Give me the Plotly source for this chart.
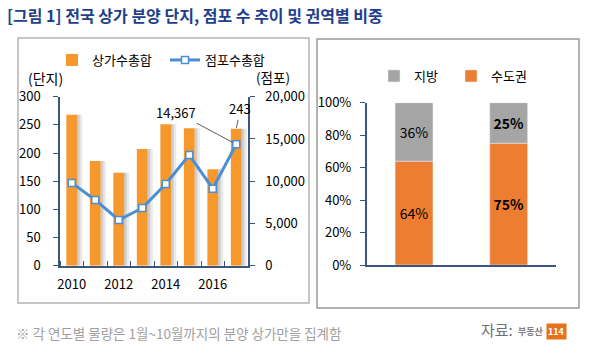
import plotly.graph_objects as go

# ---- data ----
years = [2010, 2011, 2012, 2013, 2014, 2015, 2016, 2017]
complexes = [268, 186, 165, 207, 251, 244, 171, 243]          # 상가수총합 (단지)
stores = [9800, 7780, 5410, 6830, 9670, 13100, 9110, 14367]   # 점포수총합 (점포)

share_cats = [0, 1]
capital_share = [64, 75]   # 수도권
local_share = [36, 25]     # 지방
capital_text = ["64%", "<b>75%</b>"]
local_text = ["36%", "<b>25%</b>"]

left_yticks = [0, 50, 100, 150, 200, 250, 300]
right_yticks = [0, 5000, 10000, 15000, 20000]
xtick_years = [2010, 2012, 2014, 2016]
pct_ticks = [0, 20, 40, 60, 80, 100]

W, H = 598, 350
FONT = "Noto Sans CJK KR"
AX = "#3A5580"

def px(x):
    return x / W

def py(y):
    return 1 - y / H

fig = go.Figure()

# soft shadow behind the bars (base layer)
fig.add_trace(go.Bar(
    x=years, y=complexes, marker=dict(color="#E9E9E9", line=dict(width=0)),
    width=0.12, offset=0.33, showlegend=False, hoverinfo="skip",
    xaxis="x", yaxis="y",
))
fig.add_trace(go.Bar(
    x=years, y=complexes, marker=dict(color="#CDCDCD", line=dict(width=0)),
    width=0.12, offset=0.22, showlegend=False, hoverinfo="skip",
    xaxis="x", yaxis="y",
))
fig.add_trace(go.Bar(
    x=years, y=complexes, name="상가수총합", marker=dict(color="#F7982D", line=dict(width=0)),
    width=0.46, xaxis="x", yaxis="y2", legend="legend",
))
fig.add_trace(go.Scatter(
    x=years, y=stores, name="점포수총합", mode="lines+markers",
    line=dict(color="#4A8FD6", width=3),
    marker=dict(symbol="square", size=7, color="white", line=dict(color="#4A8FD6", width=1.5)),
    xaxis="x", yaxis="y3", legend="legend",
))

fig.add_trace(go.Bar(
    x=share_cats, y=capital_share, name="수도권", marker_color="#ED7D31",
    width=0.4, text=capital_text, texttemplate="%{text}", textposition="inside", textangle=0,
    insidetextanchor="middle", textfont=dict(color="black", size=14, family=FONT),
    xaxis="x2", yaxis="y4", legend="legend2",
))
fig.add_trace(go.Bar(
    x=share_cats, y=local_share, base=capital_share, name="지방", marker_color="#A5A5A5",
    width=0.4, text=local_text, texttemplate="%{text}", textposition="inside", textangle=0,
    insidetextanchor="middle", textfont=dict(color="black", size=14, family=FONT),
    xaxis="x2", yaxis="y4", legend="legend2",
))

tickfont = dict(family=FONT, size=13, color="black")
ldom = [py(265.7), py(96.7)]

fig.update_layout(
    width=W, height=H, margin=dict(l=0, r=0, t=0, b=0, autoexpand=False),
    paper_bgcolor="white", plot_bgcolor="white",
    font=dict(family=FONT, size=13, color="black"),
    barmode="overlay",
    uniformtext=dict(minsize=8, mode="show"),
    xaxis=dict(
        domain=[px(60), px(248)], range=[2009.5, 2017.5], anchor="y",
        tickvals=xtick_years, ticktext=[str(v) for v in xtick_years],
        ticks="", showline=True, linecolor=AX, linewidth=1.5,
        showgrid=False, zeroline=False, tickfont=tickfont, ticklabelstandoff=6,
        minor=dict(tick0=2009.5, dtick=1, ticks="inside", ticklen=5, tickcolor=AX, showgrid=False),
    ),
    yaxis=dict(
        domain=ldom, range=[0, 300], tickvals=left_yticks,
        ticks="outside", ticklen=5, tickcolor=AX, showline=True, linecolor=AX, linewidth=1.5,
        showgrid=False, zeroline=False, tickfont=tickfont, ticklabelstandoff=10,
    ),
    yaxis2=dict(
        domain=ldom, range=[0, 300], overlaying="y", anchor="x", visible=False,
    ),
    yaxis3=dict(
        domain=ldom, range=[0, 20000], tickvals=right_yticks,
        tickformat=",", overlaying="y", side="right", anchor="x",
        ticks="outside", ticklen=5, tickcolor=AX, showline=True, linecolor=AX, linewidth=1.5,
        showgrid=False, zeroline=False, tickfont=tickfont, ticklabelstandoff=8,
    ),
    xaxis2=dict(
        domain=[px(366.7), px(556)], range=[-0.5, 1.5], anchor="y4",
        showticklabels=False, ticks="", showline=True, linecolor=AX, linewidth=1.5,
        showgrid=False, zeroline=False,
        minor=dict(tick0=-0.5, dtick=1, ticks="outside", ticklen=5, tickcolor=AX, showgrid=False),
    ),
    yaxis4=dict(
        domain=[py(265), py(102.7)], range=[0, 100], tickvals=pct_ticks,
        ticktext=[f"{v}%" for v in pct_ticks], anchor="x2",
        ticks="outside", ticklen=5, tickcolor=AX, showline=True, linecolor=AX, linewidth=1.5,
        showgrid=False, zeroline=False, tickfont=tickfont, ticklabelstandoff=6,
    ),
    legend=dict(
        orientation="h", x=px(52), y=py(45), xanchor="left", yanchor="top",
        font=dict(family=FONT, size=13, color="black"), itemwidth=30, traceorder="normal",
        bgcolor="rgba(0,0,0,0)", entrywidth=68,
    ),
    legend2=dict(
        orientation="h", x=px(374), y=py(61), xanchor="left", yanchor="top",
        font=dict(family=FONT, size=13, color="black"), traceorder="reversed",
        bgcolor="rgba(0,0,0,0)", itemwidth=30, entrywidth=32,
    ),
)

# panel frames
fig.add_shape(type="rect", xref="paper", yref="paper", x0=px(18), x1=px(309), y0=py(303), y1=py(38),
              line=dict(color="#B4B4B4", width=1.5))
fig.add_shape(type="rect", xref="paper", yref="paper", x0=px(317), x1=px(579), y0=py(308), y1=py(39),
              line=dict(color="#9A9A9A", width=1.5))

ann = []
ann.append(dict(text="<b>[그림 1] 전국 상가 분양 단지, 점포 수 추이 및 권역별 비중</b>",
                x=px(5), y=py(15), xref="paper", yref="paper", xanchor="left", yanchor="middle",
                showarrow=False, font=dict(family=FONT, size=16, color="#1E3F8A")))
ann.append(dict(text="(단지)", x=px(26), y=py(78), xref="paper", yref="paper", xanchor="left",
                yanchor="middle", showarrow=False, font=dict(family=FONT, size=14, color="black")))
ann.append(dict(text="(점포)", x=px(254), y=py(77), xref="paper", yref="paper", xanchor="left",
                yanchor="middle", showarrow=False, font=dict(family=FONT, size=13.5, color="black")))
ann.append(dict(text=f"{stores[-1]:,}", x=years[-1], y=stores[-1], xref="x", yref="y3",
                ax=-60, ay=-32, showarrow=True, arrowhead=0, arrowwidth=0.8, arrowcolor="#333",
                standoff=4, font=dict(family=FONT, size=13, color="black")))
ann.append(dict(text=f"{complexes[-1]}", x=years[-1], y=complexes[-1], xref="x", yref="y",
                ax=4, ay=-20, showarrow=True, arrowhead=0, arrowwidth=0.8, arrowcolor="#333",
                standoff=1, font=dict(family=FONT, size=13, color="black")))
ann.append(dict(text="※ 각 연도별 물량은 1월~10월까지의 분양 상가만을 집계함", x=px(14), y=py(333),
                xref="paper", yref="paper", xanchor="left", yanchor="middle", showarrow=False,
                font=dict(family=FONT, size=13.5, color="#A0A0A0")))
ann.append(dict(text="자료:", x=px(479), y=py(329), xref="paper", yref="paper", xanchor="left",
                yanchor="middle", showarrow=False, font=dict(family=FONT, size=15, color="#707070")))
ann.append(dict(text="<b>부동산</b>", x=px(516), y=py(331), xref="paper", yref="paper", xanchor="left",
                yanchor="middle", showarrow=False, font=dict(family=FONT, size=9, color="#808080")))
ann.append(dict(text="<b>114</b>", x=px(556), y=py(331), xref="paper", yref="paper", xanchor="center",
                yanchor="middle", showarrow=False, bgcolor="#E8711E", borderpad=1,
                font=dict(family=FONT, size=9, color="white")))
fig.update_layout(annotations=ann)

fig.write_html("out.html")
